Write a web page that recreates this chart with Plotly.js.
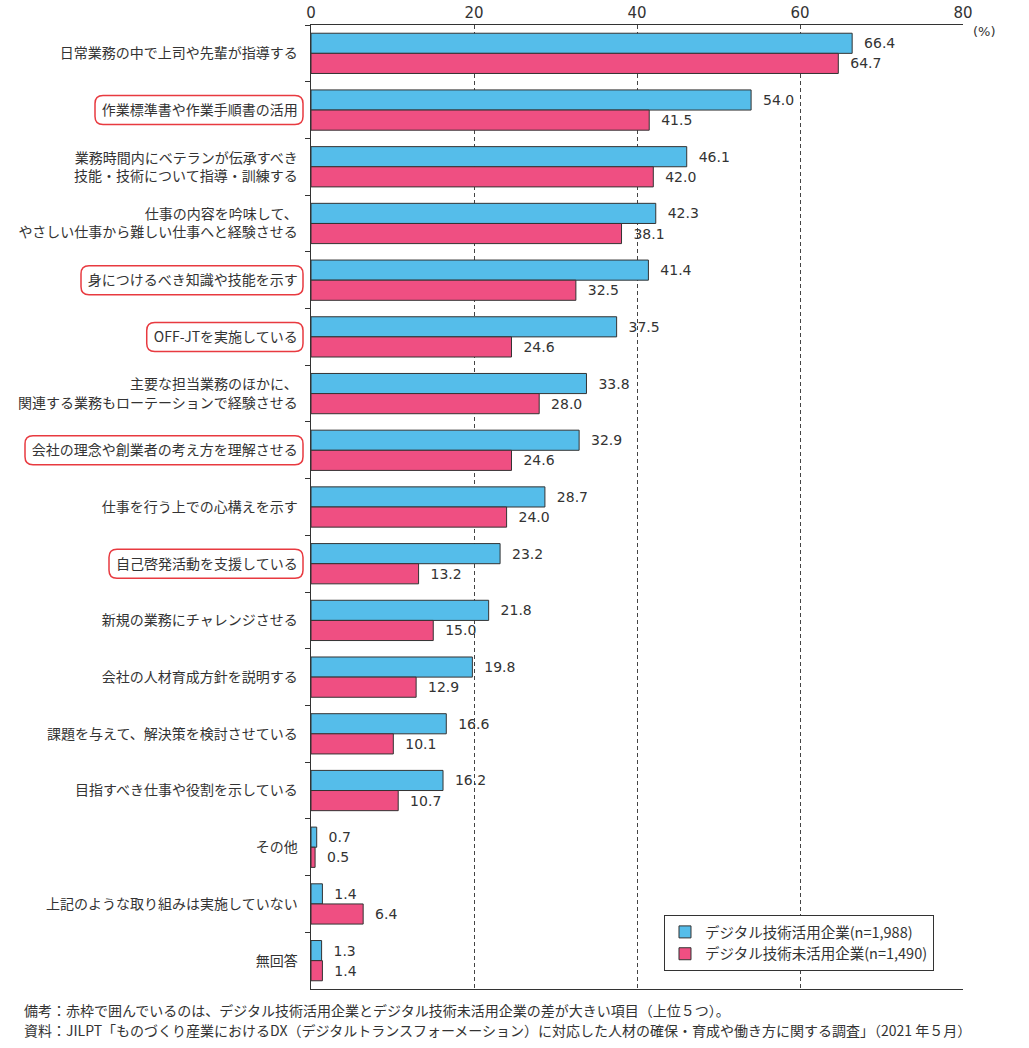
<!DOCTYPE html>
<html>
<head>
<meta charset="utf-8">
<script src="https://cdn.plot.ly/plotly-3.0.1.min.js"></script>
<style>body{margin:0;padding:0;background:#fff;}#chart{width:1029px;height:1048px;}</style>
</head>
<body>
<div id="chart"></div>
<script>
const categories = [
  "日常業務の中で上司や先輩が指導する",
  "作業標準書や作業手順書の活用",
  "業務時間内にベテランが伝承すべき<br>技能・技術について指導・訓練する",
  "仕事の内容を吟味して、<br>やさしい仕事から難しい仕事へと経験させる",
  "身につけるべき知識や技能を示す",
  "OFF-JTを実施している",
  "主要な担当業務のほかに、<br>関連する業務もローテーションで経験させる",
  "会社の理念や創業者の考え方を理解させる",
  "仕事を行う上での心構えを示す",
  "自己啓発活動を支援している",
  "新規の業務にチャレンジさせる",
  "会社の人材育成方針を説明する",
  "課題を与えて、解決策を検討させている",
  "目指すべき仕事や役割を示している",
  "その他",
  "上記のような取り組みは実施していない",
  "無回答"
];
const digitalUsers = [66.4, 54.0, 46.1, 42.3, 41.4, 37.5, 33.8, 32.9, 28.7, 23.2, 21.8, 19.8, 16.6, 16.2, 0.7, 1.4, 1.3];
const digitalNonUsers = [64.7, 41.5, 42.0, 38.1, 32.5, 24.6, 28.0, 24.6, 24.0, 13.2, 15.0, 12.9, 10.1, 10.7, 0.5, 6.4, 1.4];
const seriesNames = ["デジタル技術活用企業(n=1,988)", "デジタル技術未活用企業(n=1,490)"];
const highlighted = [
  "作業標準書や作業手順書の活用",
  "身につけるべき知識や技能を示す",
  "OFF-JTを実施している",
  "会社の理念や創業者の考え方を理解させる",
  "自己啓発活動を支援している"
];
const xTicks = [0, 20, 40, 60, 80];
const notes = [
  "備考：赤枠で囲んでいるのは、デジタル技術活用企業とデジタル技術未活用企業の差が大きい項目（上位５つ）。",
  "資料：JILPT「ものづくり産業におけるDX（デジタルトランスフォーメーション）に対応した人材の確保・育成や働き方に関する調査」（2021 年５月）"
];

const FONT = '"Noto Sans CJK JP", "Noto Sans", sans-serif';
const NUMFONT = '"DejaVu Sans", "Noto Sans", sans-serif';
const TXT = '#333333';
const LABEL_SIZE = 14;

function mkTrace(vals, name, color) {
  return {
    type: 'bar', orientation: 'h',
    x: vals, y: categories, name: name,
    marker: {color: color, line: {color: '#333333', width: 1}},
    text: vals.map(v => v.toFixed(1)),
    texttemplate: '\u00a0\u00a0%{text}',
    textposition: 'outside',
    textfont: {family: NUMFONT, size: 14, color: TXT},
    constraintext: 'none',
    cliponaxis: false,
    hoverinfo: 'x+name'
  };
}

const traces = [
  mkTrace(digitalUsers, seriesNames[0], '#55bdea'),
  mkTrace(digitalNonUsers, seriesNames[1], '#ef4f82')
];

// measure text widths for rounded red boxes
const cv = document.createElement('canvas');
const ctx = cv.getContext('2d');
ctx.font = LABEL_SIZE + 'px "Noto Sans CJK JP"';
const shapes = highlighted.map(lbl => {
  const w = ctx.measureText(lbl).width;
  const gap = 8, pad = 6, h = 14.5, r = 8;
  const x1 = -gap, x0 = -(gap + 2 * pad + w);
  const y0 = -h, y1 = h;
  const path = `M ${x0 + r},${y0} L ${x1 - r},${y0} Q ${x1},${y0} ${x1},${y0 + r} L ${x1},${y1 - r} Q ${x1},${y1} ${x1 - r},${y1} L ${x0 + r},${y1} Q ${x0},${y1} ${x0},${y1 - r} L ${x0},${y0 + r} Q ${x0},${y0} ${x0 + r},${y0} Z`;
  return {
    type: 'path', xref: 'paper', xsizemode: 'pixel', xanchor: 0,
    yref: 'y', ysizemode: 'pixel', yanchor: lbl,
    path: path, line: {color: '#e83a40', width: 1.5}, layer: 'above'
  };
});

const annotations = [
  {xref: 'paper', yref: 'paper', x: 1.012, y: 0.993, xanchor: 'left', yanchor: 'middle',
   text: '(%)', showarrow: false, font: {family: NUMFONT, size: 13, color: TXT}}
].concat(notes.map((t, i) => ({
  xref: 'paper', yref: 'paper', x: -0.4433, y: -0.0218 - i * 0.0207,
  xanchor: 'left', yanchor: 'middle', text: t, showarrow: false,
  font: {family: FONT, size: 14, color: TXT}
})));

const layout = {
  width: 1029, height: 1048,
  margin: {l: 311, r: 66, t: 25, b: 59, pad: 0},
  paper_bgcolor: '#ffffff', plot_bgcolor: '#ffffff',
  font: {family: FONT, color: TXT},
  barmode: 'group', bargap: 0.29, bargroupgap: 0,
  showlegend: true,
  legend: {
    x: 0.5414, y: 0.0187, xanchor: 'left', yanchor: 'bottom',
    bordercolor: '#333333', borderwidth: 1, bgcolor: '#ffffff',
    font: {family: FONT, size: 14.5, color: TXT}, traceorder: 'normal', tracegroupgap: 0
  },
  xaxis: {
    side: 'top', range: [0, 80], tickvals: xTicks, ticktext: xTicks.map(String),
    showgrid: true, gridcolor: '#444444', griddash: '4px,3px', gridwidth: 1,
    showline: true, linecolor: '#333333', linewidth: 1.2, mirror: true,
    zeroline: false, ticks: '', fixedrange: true,
    tickfont: {family: NUMFONT, size: 15, color: TXT}
  },
  yaxis: {
    type: 'category', autorange: 'reversed',
    showline: true, linecolor: '#333333', linewidth: 1.5,
    ticks: 'outside', tickson: 'boundaries', ticklen: 5, tickcolor: '#333333', tickwidth: 1,
    ticklabelstandoff: 9,
    showgrid: false, zeroline: false, fixedrange: true,
    tickfont: {family: FONT, size: LABEL_SIZE, color: TXT}
  },
  shapes: shapes,
  annotations: annotations
};

Plotly.newPlot('chart', traces, layout, {displayModeBar: false, staticPlot: true});
</script>
</body>
</html>
